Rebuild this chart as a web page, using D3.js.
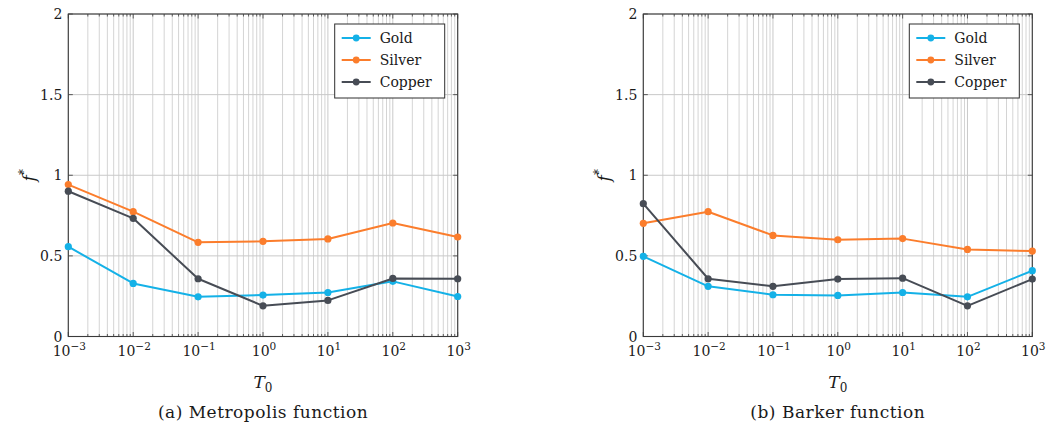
<!DOCTYPE html>
<html>
<head>
<meta charset="utf-8">
<script src="https://cdn.jsdelivr.net/npm/d3@7"></script>
<style>
  html, body { margin: 0; padding: 0; background: #fff; }
  svg { display: block; font-family: "DejaVu Serif", "Liberation Serif", serif; }
</style>
</head>
<body>
<svg id="chart" width="1048" height="434"></svg>
<script>
// Initial temperatures T0 (log scale) and the resulting f* values
const temperatures = [1e-3, 1e-2, 1e-1, 1e0, 1e1, 1e2, 1e3];
const seriesNames = ["Gold", "Silver", "Copper"];
const seriesColors = ["#14b1e7", "#fb7d2c", "#474c55"];

// (a) Metropolis acceptance function
const metropolisGold   = [0.557, 0.329, 0.246, 0.257, 0.273, 0.342, 0.248];
const metropolisSilver = [0.942, 0.774, 0.584, 0.590, 0.605, 0.704, 0.617];
const metropolisCopper = [0.901, 0.733, 0.358, 0.190, 0.224, 0.360, 0.358];

// (b) Barker acceptance function
const barkerGold   = [0.497, 0.311, 0.259, 0.255, 0.273, 0.246, 0.408];
const barkerSilver = [0.702, 0.774, 0.627, 0.600, 0.607, 0.540, 0.530];
const barkerCopper = [0.824, 0.358, 0.311, 0.356, 0.362, 0.190, 0.356];

const yTicks = [0, 0.5, 1, 1.5, 2];
const xExponents = [-3, -2, -1, 0, 1, 2, 3];

const svg = d3.select("#chart");
const gridColor = "#c9c9c9";
const axisColor = "#3a3a3a";
const textColor = "#1a1a1a";

function drawPanel(x0, x1, series, caption) {
  const top = 14, bottom = 336.5;
  const x = d3.scaleLog().domain([1e-3, 1e3]).range([x0, x1]);
  const y = d3.scaleLinear().domain([0, 2]).range([bottom, top]);
  const g = svg.append("g");

  // minor vertical grid (2..9 within each decade)
  const minor = [];
  for (let e = -3; e < 3; e++) for (let k = 2; k <= 9; k++) minor.push(k * Math.pow(10, e));
  g.append("g").selectAll("line").data(minor).join("line")
    .attr("x1", d => x(d)).attr("x2", d => x(d))
    .attr("y1", top).attr("y2", bottom)
    .attr("stroke", gridColor).attr("stroke-width", 0.8);

  // major grid
  g.append("g").selectAll("line").data(temperatures).join("line")
    .attr("x1", d => x(d)).attr("x2", d => x(d))
    .attr("y1", top).attr("y2", bottom)
    .attr("stroke", gridColor).attr("stroke-width", 1);
  g.append("g").selectAll("line").data(yTicks).join("line")
    .attr("x1", x0).attr("x2", x1)
    .attr("y1", d => y(d)).attr("y2", d => y(d))
    .attr("stroke", gridColor).attr("stroke-width", 1);

  // inward tick marks on all four sides
  const ticks = g.append("g").attr("stroke", axisColor).attr("stroke-width", 0.8);
  minor.forEach(v => {
    ticks.append("line").attr("x1", x(v)).attr("x2", x(v)).attr("y1", bottom).attr("y2", bottom - 2.5);
    ticks.append("line").attr("x1", x(v)).attr("x2", x(v)).attr("y1", top).attr("y2", top + 2.5);
  });
  temperatures.forEach(v => {
    ticks.append("line").attr("x1", x(v)).attr("x2", x(v)).attr("y1", bottom).attr("y2", bottom - 4.5);
    ticks.append("line").attr("x1", x(v)).attr("x2", x(v)).attr("y1", top).attr("y2", top + 4.5);
  });
  yTicks.forEach(v => {
    ticks.append("line").attr("x1", x0).attr("x2", x0 + 4.5).attr("y1", y(v)).attr("y2", y(v));
    ticks.append("line").attr("x1", x1).attr("x2", x1 - 4.5).attr("y1", y(v)).attr("y2", y(v));
  });

  // frame
  g.append("rect").attr("x", x0).attr("y", top).attr("width", x1 - x0).attr("height", bottom - top)
    .attr("fill", "none").attr("stroke", axisColor).attr("stroke-width", 1.1);

  // y tick labels
  g.append("g").selectAll("text").data(yTicks).join("text")
    .attr("x", x0 - 6).attr("y", d => y(d) + 5)
    .attr("text-anchor", "end").attr("font-size", 14).attr("fill", textColor)
    .text(d => d3.format("~g")(d));

  // x tick labels: 10^e
  const xl = g.append("g").selectAll("text").data(xExponents).join("text")
    .attr("x", d => x(Math.pow(10, d)) + 1).attr("y", bottom + 19)
    .attr("text-anchor", "middle").attr("font-size", 14).attr("fill", textColor);
  xl.append("tspan").text("10");
  xl.append("tspan").attr("dy", -6).attr("font-size", 10.5)
    .text(d => d < 0 ? "\u2212" + Math.abs(d) : String(d));

  // axis titles
  const cx = (x0 + x1) / 2;
  const tl = g.append("text").attr("x", cx).attr("y", 388).attr("text-anchor", "middle")
    .attr("font-size", 17).attr("fill", textColor);
  tl.append("tspan").attr("font-style", "italic").text("T");
  tl.append("tspan").attr("dy", 4).attr("font-size", 12).text("0");

  const fl = g.append("text").attr("transform", `translate(${x0 - 33},${y(1)}) rotate(-90)`)
    .attr("text-anchor", "middle").attr("font-size", 17).attr("fill", textColor);
  fl.append("tspan").attr("font-style", "italic").text("f");
  fl.append("tspan").attr("dy", -7).attr("font-size", 12).text("*");

  // caption
  g.append("text").attr("x", cx).attr("y", 418).attr("text-anchor", "middle")
    .attr("font-size", 17).attr("letter-spacing", 0.5).attr("fill", textColor).text(caption);

  // series lines and markers
  const line = d3.line().x((d, i) => x(temperatures[i])).y(d => y(d));
  series.forEach((vals, si) => {
    g.append("path").datum(vals).attr("d", line)
      .attr("fill", "none").attr("stroke", seriesColors[si]).attr("stroke-width", 2)
      .attr("stroke-linejoin", "round");
    g.append("g").selectAll("circle").data(vals).join("circle")
      .attr("cx", (d, i) => x(temperatures[i])).attr("cy", d => y(d)).attr("r", 3.6)
      .attr("fill", seriesColors[si]);
  });

  // legend
  const lx = x1 - 123, ly = 24, lw = 110, lh = 74;
  const lg = g.append("g");
  lg.append("rect").attr("x", lx).attr("y", ly).attr("width", lw).attr("height", lh)
    .attr("fill", "#fff").attr("stroke", "#2f2f2f").attr("stroke-width", 1);
  seriesNames.forEach((name, i) => {
    const ry = ly + 14 + i * 22;
    lg.append("line").attr("x1", lx + 7).attr("x2", lx + 36).attr("y1", ry).attr("y2", ry)
      .attr("stroke", seriesColors[i]).attr("stroke-width", 2);
    lg.append("circle").attr("cx", lx + 21.5).attr("cy", ry).attr("r", 3.4).attr("fill", seriesColors[i]);
    lg.append("text").attr("x", lx + 45).attr("y", ry + 5).attr("font-size", 14).attr("fill", textColor).text(name);
  });
}

drawPanel(68.3, 457.7, [metropolisGold, metropolisSilver, metropolisCopper], "(a)  Metropolis function");
drawPanel(643.3, 1032.3, [barkerGold, barkerSilver, barkerCopper], "(b)  Barker function");
</script>
</body>
</html>
